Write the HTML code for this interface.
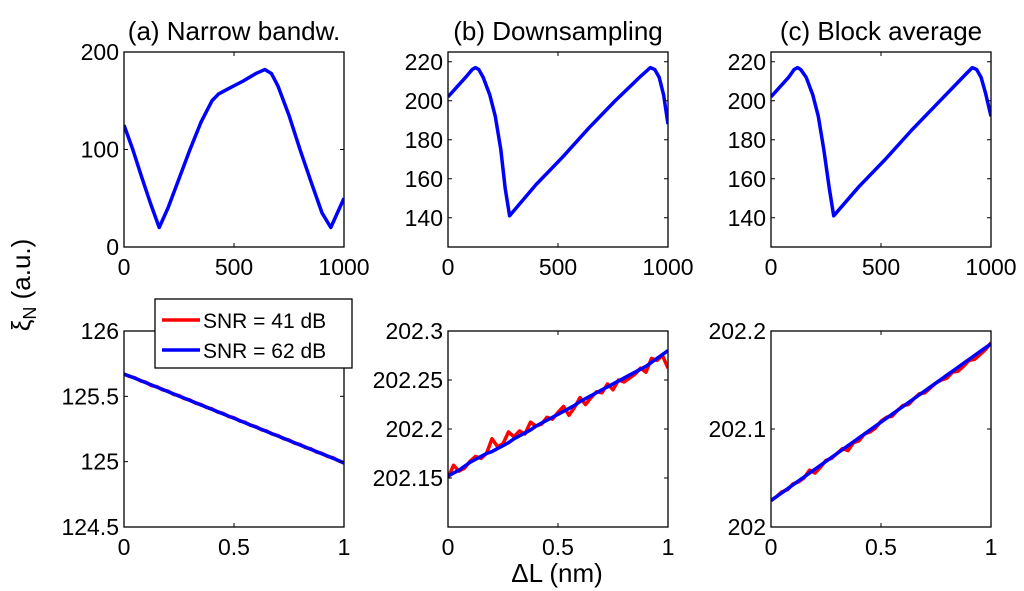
<!DOCTYPE html>
<html><head><meta charset="utf-8"><style>
body{margin:0;background:#fff;}
svg{display:block;font-family:"Liberation Sans",Arial,sans-serif;}
</style></head><body>
<svg id="fig" width="1024" height="591" viewBox="0 0 1024 591"></svg>
<script>
// ---- data ----
const aTopX=[0,40,80,120,160,200,250,300,350,400,430,480,540,600,640,670,700,750,800,850,900,940,970,1000];
const aTopY=[125,100,72,45,20,40,70,100,128,150,157,163,170,178,182,178,165,135,100,67,35,20,35,50];
const bTopX=[0,40,80,110,125,140,160,190,215,240,260,280,400,520,640,760,880,920,940,960,980,1000];
const bTopY=[202,207,212,216,217,216,212,203,192,175,155,141,157,171,186,200,213,217,216,212,203,188];
const cTopX=[0,40,80,105,120,135,160,190,215,240,265,285,400,520,640,760,880,915,935,955,975,1000];
const cTopY=[202,207,212,216,217,216,212,203,192,175,155,141,156,170,185,199,213,217,216,212,204,192];
const botX=[0,0.025,0.05,0.075,0.1,0.125,0.15,0.175,0.2,0.225,0.25,0.275,0.3,0.325,0.35,0.375,0.4,0.425,0.45,0.475,0.5,0.525,0.55,0.575,0.6,0.625,0.65,0.675,0.7,0.725,0.75,0.775,0.8,0.825,0.85,0.875,0.9,0.925,0.95,0.975,1];
const aRed=[125.67,125.652,125.642,125.618,125.608,125.582,125.574,125.550,125.540,125.515,125.506,125.482,125.472,125.448,125.438,125.415,125.404,125.380,125.370,125.346,125.336,125.312,125.302,125.278,125.268,125.244,125.234,125.210,125.200,125.176,125.166,125.142,125.132,125.108,125.098,125.074,125.064,125.040,125.030,125.006,124.99];
const aBlue=[125.67,125.655,125.638,125.621,125.604,125.587,125.57,125.553,125.536,125.519,125.502,125.485,125.468,125.451,125.434,125.417,125.40,125.383,125.366,125.349,125.332,125.315,125.298,125.281,125.264,125.247,125.23,125.213,125.196,125.179,125.162,125.145,125.128,125.111,125.094,125.077,125.06,125.043,125.026,125.009,124.99];
const bRed=[202.150,202.163,202.157,202.160,202.167,202.172,202.170,202.175,202.190,202.182,202.185,202.197,202.192,202.198,202.195,202.207,202.203,202.205,202.212,202.210,202.217,202.223,202.214,202.222,202.232,202.225,202.232,202.238,202.237,202.246,202.240,202.250,202.248,202.252,202.256,202.262,202.258,202.272,202.270,202.275,202.262];
const bBlue=[202.152,202.155,202.158,202.162,202.166,202.169,202.172,202.175,202.177,202.180,202.183,202.186,202.190,202.193,202.196,202.199,202.203,202.206,202.209,202.212,202.215,202.218,202.221,202.224,202.228,202.231,202.234,202.237,202.240,202.243,202.246,202.249,202.252,202.255,202.258,202.261,202.264,202.268,202.272,202.276,202.280];
const cRed=[202.027,202.031,202.036,202.038,202.044,202.046,202.050,202.058,202.055,202.061,202.068,202.070,202.075,202.080,202.078,202.086,202.088,202.095,202.097,202.101,202.108,202.112,202.113,202.119,202.124,202.125,202.131,202.136,202.137,202.142,202.147,202.150,202.152,202.158,202.159,202.164,202.170,202.171,202.176,202.181,202.188];
const cBlue=[202.027,202.031,202.035,202.039,202.043,202.047,202.051,202.055,202.059,202.063,202.067,202.071,202.075,202.079,202.083,202.087,202.091,202.095,202.099,202.103,202.107,202.111,202.115,202.119,202.123,202.127,202.131,202.135,202.139,202.143,202.147,202.151,202.155,202.159,202.163,202.167,202.171,202.175,202.179,202.183,202.187];
const topXTicks=[0,500,1000];
const botXTicks=[0,0.5,1];
const botXLabels=["0","0.5","1"];
const aTopTicks=[0,100,200];
const bTopTicks=[140,160,180,200,220];
const aBotTicks=[124.5,125,125.5,126];
const aBotLabels=["124.5","125","125.5","126"];
const bBotTicks=[202.15,202.2,202.25,202.3];
const bBotLabels=["202.15","202.2","202.25","202.3"];
const cBotTicks=[202,202.1,202.2];
const cBotLabels=["202","202.1","202.2"];

const NS="http://www.w3.org/2000/svg";
const svg=document.getElementById('fig');
function mk(tag,attrs,parent){const e=document.createElementNS(NS,tag);for(const k in attrs)e.setAttribute(k,attrs[k]);(parent||svg).appendChild(e);return e;}

function panel(name,x0,y0,w,h,xmin,xmax,ymin,ymax,xt,xl,yt,yl,series){
  const g=mk('g',{});
  
  
  const sx=v=>x0+(v-xmin)/(xmax-xmin)*w;
  const sy=v=>y0+h-(v-ymin)/(ymax-ymin)*h;
  const cl=mk('clipPath',{id:'c'+name},g);
  mk('rect',{x:x0,y:y0,width:w,height:h},cl);
  series.forEach(s=>{
    const p=mk('polyline',{points:s.x.map((v,i)=>sx(v)+','+sy(s.y[i])).join(' '),fill:'none',stroke:s.c,'stroke-width':3.5,'stroke-linejoin':'round','clip-path':'url(#c'+name+')'},g);
    
    
  });
  const fr=mk('rect',{x:x0,y:y0,width:w,height:h,fill:'none',stroke:'#000','stroke-width':1.3},g);
  
  
  xt.forEach((v,i)=>{
    const X=sx(v);
    mk('line',{x1:X,x2:X,y1:y0+h,y2:y0+h-4,stroke:'#000'},g);
    mk('line',{x1:X,x2:X,y1:y0,y2:y0+4,stroke:'#000'},g);
    const t=mk('text',{x:X,y:y0+h+28,'font-size':23,'text-anchor':'middle'},g);
    t.textContent=xl[i];
    
    
  });
  yt.forEach((v,i)=>{
    const Y=sy(v);
    mk('line',{x1:x0,x2:x0+4,y1:Y,y2:Y,stroke:'#000'},g);
    mk('line',{x1:x0+w,x2:x0+w-4,y1:Y,y2:Y,stroke:'#000'},g);
    const t=mk('text',{x:x0-5,y:Y+8,'font-size':23,'text-anchor':'end'},g);
    t.textContent=yl[i];
    
    
  });
}
const R='#ff0000',B='#0000ff';
const tl=topXTicks.map(String);
panel('panel-a-top',124,52,220,195,0,1000,0,200,topXTicks,tl,aTopTicks,aTopTicks.map(String),[{x:aTopX,y:aTopY,c:B,n:'line-a-top'}]);
panel('panel-b-top',448,52,220,195,0,1000,125,225,topXTicks,tl,bTopTicks,bTopTicks.map(String),[{x:bTopX,y:bTopY,c:B,n:'line-b-top'}]);
panel('panel-c-top',771,52,220,195,0,1000,125,225,topXTicks,tl,bTopTicks,bTopTicks.map(String),[{x:cTopX,y:cTopY,c:B,n:'line-c-top'}]);
panel('panel-a-bottom',124,331,220,196,0,1,124.5,126,botXTicks,botXLabels,aBotTicks,aBotLabels,[{x:botX,y:aRed,c:R,n:'line-a-snr41'},{x:botX,y:aBlue,c:B,n:'line-a-snr62'}]);
panel('panel-b-bottom',448,331,220,196,0,1,202.1,202.3,botXTicks,botXLabels,bBotTicks,bBotLabels,[{x:botX,y:bRed,c:R,n:'line-b-snr41'},{x:botX,y:bBlue,c:B,n:'line-b-snr62'}]);
panel('panel-c-bottom',771,331,220,196,0,1,202,202.2,botXTicks,botXLabels,cBotTicks,cBotLabels,[{x:botX,y:cRed,c:R,n:'line-c-snr41'},{x:botX,y:cBlue,c:B,n:'line-c-snr62'}]);
</script>
<div style="position:absolute;left:0;top:0;width:1024px;height:591px;pointer-events:none">
<svg width="1024" height="591" style="position:absolute;left:0;top:0;font-family:'Liberation Sans',Arial,sans-serif">
<text x="234" y="40" font-size="26" text-anchor="middle">(a) Narrow bandw.</text>
<text x="558" y="40" font-size="26" text-anchor="middle">(b) Downsampling</text>
<text x="881" y="40" font-size="26" text-anchor="middle">(c) Block average</text>
<text transform="translate(30,285) rotate(-90)" font-size="26" text-anchor="middle">ξ<tspan font-size="18" dy="6">N</tspan><tspan dy="-6"> (a.u.)</tspan></text>
<text x="557" y="582" font-size="26" text-anchor="middle">ΔL (nm)</text>
<g>
<rect x="155" y="299" width="197" height="69" fill="#fff" stroke="#000" stroke-width="1.3"/>
<line x1="162" x2="200" y1="320" y2="320" stroke="#ff0000" stroke-width="3.5"/>
<text x="203" y="328" font-size="21">SNR = 41 dB</text>
<line x1="162" x2="200" y1="350" y2="350" stroke="#0000ff" stroke-width="3.5"/>
<text x="203" y="358" font-size="21">SNR = 62 dB</text>
</g>
</svg>
</div>
</body></html>
